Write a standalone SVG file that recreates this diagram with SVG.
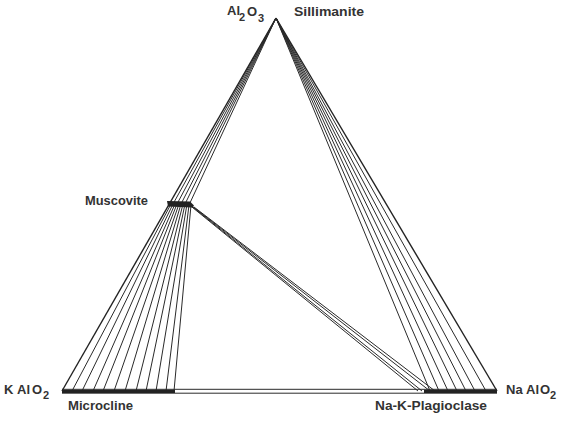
<svg xmlns="http://www.w3.org/2000/svg" width="562" height="421" viewBox="0 0 562 421">
<style>
.t{font-family:"Liberation Sans",Arial,sans-serif;font-weight:bold;font-size:13px;fill:#333}
.s{font-family:"Liberation Sans",Arial,sans-serif;font-weight:bold;font-size:11px;fill:#333}
.l{stroke:#2a2a2a;stroke-width:1;fill:none}
.e{stroke:#222;stroke-width:1.4;fill:none}
.b{stroke:#222;stroke-width:3.2;fill:none}
</style>
<rect width="562" height="421" fill="#fff"/>
<g id="connectors">
<path class="e" d="M276 18 L62 391"/>
<path class="e" d="M276 18 L497 391"/>
<path class="l" d="M276 18 L173 204 M276 18 L177 204 M276 18 L181 204 M276 18 L185 204 M276 18 L189 205"/>
<path class="l" d="M276 18 L430 391 M276 18 L439 391 M276 18 L448 391 M276 18 L457 391 M276 18 L466 391 M276 18 L475 391 M276 18 L486 391"/>
<path class="l" d="M171 204 L72 391 M173 204 L82 391 M175 204 L93 391 M177 204 L103 391 M179 204 L114 391 M181 204 L125 391 M183 204 L136 391 M185 204 L146 391 M187 204 L156 391 M189 205 L166 391 M191 205 L174 391"/>
<path class="l" d="M187 203 L418 391 M189 204 L422 391 M192 206 L430 391 M194 207 L435 391"/>
<path class="l" d="M62 389.3 L497 389.3 M62 393.2 L497 393.2"/>
</g>
<g id="al2o3">
<text class="t" x="227" y="15">Al</text>
<text class="s" x="239" y="21">2</text>
<text class="t" x="247" y="16">O</text>
<text class="s" x="258" y="22">3</text>
</g>
<g id="sillimanite">
<text class="t" x="294" y="16" textLength="70" lengthAdjust="spacingAndGlyphs">Sillimanite</text>
</g>
<g id="muscovite">
<path d="M167 201 L190 201.5 L194 205.5 L192 207.5 L168 206.5 Z" fill="#222"/>
<text class="t" x="85" y="205" textLength="63" lengthAdjust="spacingAndGlyphs">Muscovite</text>
</g>
<g id="kalo2">
<text class="t" x="4" y="394">K</text>
<text class="t" x="17" y="394">Al</text>
<text class="t" x="32" y="394">O</text>
<text class="s" x="43" y="399">2</text>
</g>
<g id="microcline">
<path class="b" d="M62 391.3 L175 391.3"/>
<text class="t" x="68" y="410" textLength="65" lengthAdjust="spacingAndGlyphs">Microcline</text>
</g>
<g id="plagioclase">
<path class="b" d="M424 391.3 L497 391.3"/>
<text class="t" x="375" y="410" textLength="112" lengthAdjust="spacingAndGlyphs">Na-K-Plagioclase</text>
</g>
<g id="naalo2">
<text class="t" x="506" y="394">Na</text>
<text class="t" x="526" y="394">Al</text>
<text class="t" x="540" y="394">O</text>
<text class="s" x="550" y="399">2</text>
</g>
</svg>
